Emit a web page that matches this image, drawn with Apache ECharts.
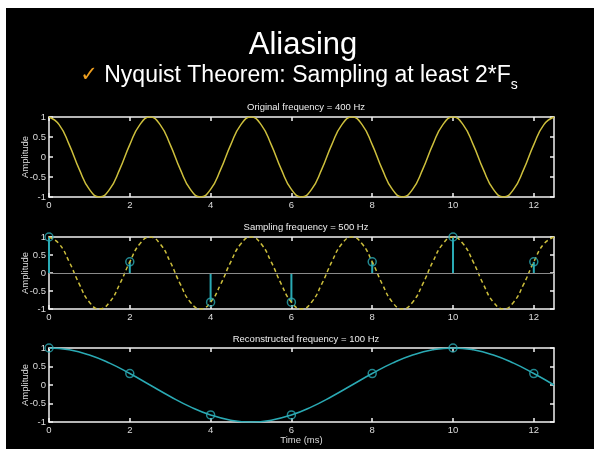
<!DOCTYPE html>
<html>
<head>
<meta charset="utf-8">
<script src="https://cdn.jsdelivr.net/npm/echarts@6/dist/echarts.min.js"></script>
<style>
  html, body { margin: 0; padding: 0; background: #fff; }
  #chart { width: 594px; height: 449px; }
</style>
</head>
<body>
<div id="chart"></div>
<script>
// 400 Hz tone, read every 0.25 ms
const origT = [0, 0.25, 0.5, 0.75, 1, 1.25, 1.5, 1.75, 2, 2.25, 2.5, 2.75, 3, 3.25, 3.5, 3.75, 4, 4.25, 4.5, 4.75,
  5, 5.25, 5.5, 5.75, 6, 6.25, 6.5, 6.75, 7, 7.25, 7.5, 7.75, 8, 8.25, 8.5, 8.75, 9, 9.25, 9.5, 9.75,
  10, 10.25, 10.5, 10.75, 11, 11.25, 11.5, 11.75, 12, 12.25, 12.5]
const origV = [1, 0.81, 0.31, -0.31, -0.81, -1, -0.81, -0.31, 0.31, 0.81,
  1, 0.81, 0.31, -0.31, -0.81, -1, -0.81, -0.31, 0.31, 0.81,
  1, 0.81, 0.31, -0.31, -0.81, -1, -0.81, -0.31, 0.31, 0.81,
  1, 0.81, 0.31, -0.31, -0.81, -1, -0.81, -0.31, 0.31, 0.81,
  1, 0.81, 0.31, -0.31, -0.81, -1, -0.81, -0.31, 0.31, 0.81, 1]

// samples taken every 2 ms
const sampleT = [0, 2, 4, 6, 8, 10, 12]
const sampleV = [1, 0.31, -0.81, -0.81, 0.31, 1, 0.31]

// 100 Hz alias, read every 0.5 ms
const reconT = [0, 0.5, 1, 1.5, 2, 2.5, 3, 3.5, 4, 4.5, 5, 5.5, 6, 6.5, 7, 7.5, 8, 8.5, 9, 9.5,
  10, 10.5, 11, 11.5, 12, 12.5]
const reconV = [1, 0.95, 0.81, 0.59, 0.31, 0, -0.31, -0.59, -0.81, -0.95, -1, -0.95, -0.81, -0.59, -0.31,
  0, 0.31, 0.59, 0.81, 0.95, 1, 0.95, 0.81, 0.59, 0.31, 0]

const xTicks = [0, 2, 4, 6, 8, 10, 12]
const plotTitles = ['Original frequency = 400 Hz', 'Sampling frequency = 500 Hz', 'Reconstructed frequency = 100 Hz']

const FONT = 'Liberation Sans'
const YELLOW = '#cdbf3c'
const CYAN = '#2aaab4'
const WHITE = '#f2f2f2'

const pairs = (xs, ys) => xs.map((x, i) => [x, ys[i]])

const grids = [
  { left: 49, width: 505, top: 117, height: 80 },
  { left: 49, width: 505, top: 237, height: 72 },
  { left: 49, width: 505, top: 348, height: 74 }
]

const xAxes = []
const yAxes = []
grids.forEach((g, i) => {
  const base = {
    gridIndex: i, type: 'value', min: 0, max: 12.5,
    axisLine: { show: true, onZero: false, lineStyle: { color: WHITE, width: 1.5 } },
    axisTick: { show: true, inside: true, length: 4, customValues: xTicks, lineStyle: { color: WHITE, width: 1.5 } },
    splitLine: { show: false }
  }
  xAxes.push(Object.assign({}, base, {
    position: 'bottom',
    axisLabel: { show: true, customValues: xTicks, color: '#ddd', fontSize: 9.5, fontFamily: FONT, margin: 3 },
    name: i === 2 ? 'Time (ms)' : '',
    nameLocation: 'middle', nameGap: 13, nameMoveOverlap: false,
    nameTextStyle: { color: '#ddd', fontSize: 9.5, fontFamily: FONT }
  }))
  xAxes.push(Object.assign({}, base, { position: 'top', axisLabel: { show: false } }))
  const ybase = {
    gridIndex: i, type: 'value', min: -1, max: 1, interval: 0.5,
    axisLine: { show: true, onZero: false, lineStyle: { color: WHITE, width: 1.5 } },
    axisTick: { show: true, inside: true, length: 4, lineStyle: { color: WHITE, width: 1.5 } },
    splitLine: { show: false }
  }
  yAxes.push(Object.assign({}, ybase, {
    position: 'left',
    axisLabel: { color: '#ddd', fontSize: 9.5, fontFamily: FONT, margin: 3 },
    name: 'Amplitude', nameLocation: 'middle', nameGap: 19, nameRotate: 90, nameMoveOverlap: false,
    nameTextStyle: { color: '#ddd', fontSize: 9.5, fontFamily: FONT }
  }))
  yAxes.push(Object.assign({}, ybase, { position: 'right', axisLabel: { show: false } }))
})

const option = {
  backgroundColor: '#fff',
  animation: false,
  graphic: [
    { type: 'rect', z: -10, silent: true, shape: { x: 6, y: 8, width: 588, height: 441 }, style: { fill: '#000' } }
  ],
  title: [
    { text: 'Aliasing', left: 298, top: 25, textAlign: 'center',
      textStyle: { color: '#fff', fontSize: 31, fontWeight: 'normal', fontFamily: FONT } },
    { text: '{chk|✓} Nyquist Theorem: Sampling at least 2*F{sub|s}', left: 294, top: 59, textAlign: 'center',
      textStyle: { color: '#fff', fontSize: 23, fontWeight: 'normal', fontFamily: FONT,
        rich: {
          chk: { color: '#f0a020', fontSize: 21, fontFamily: 'DejaVu Sans' },
          sub: { color: '#fff', fontSize: 14, fontFamily: FONT, verticalAlign: 'bottom', padding: [0, 0, -5, 0] }
        } } }
  ].concat(plotTitles.map((t, i) => ({
    text: t, left: 301, top: [97, 217, 329][i], textAlign: 'center',
    textStyle: { color: '#eee', fontSize: 9.5, fontWeight: 'normal', fontFamily: FONT }
  }))),
  grid: grids,
  xAxis: xAxes,
  yAxis: yAxes,
  series: [
    {
      type: 'line', xAxisIndex: 0, yAxisIndex: 0, data: pairs(origT, origV),
      smooth: true, showSymbol: false, lineStyle: { color: YELLOW, width: 1.5 }
    },
    {
      type: 'line', xAxisIndex: 2, yAxisIndex: 2, data: pairs(origT, origV),
      smooth: true, showSymbol: false, lineStyle: { color: YELLOW, width: 1.5, type: [4, 3] },
      markLine: {
        silent: true, symbol: 'none', label: { show: false },
        lineStyle: { color: '#8a8a8a', width: 1, type: 'solid' },
        data: [{ yAxis: 0 }]
      }
    },
    {
      type: 'bar', xAxisIndex: 2, yAxisIndex: 2, data: pairs(sampleT, sampleV),
      barWidth: 2, itemStyle: { color: CYAN }
    },
    {
      type: 'scatter', xAxisIndex: 2, yAxisIndex: 2, data: pairs(sampleT, sampleV),
      symbol: 'circle', symbolSize: 8, z: 5,
      itemStyle: { color: 'rgba(0,0,0,0)', borderColor: CYAN, borderWidth: 1.5 }
    },
    {
      type: 'line', xAxisIndex: 4, yAxisIndex: 4, data: pairs(reconT, reconV),
      smooth: true, showSymbol: false, lineStyle: { color: CYAN, width: 1.5 }
    },
    {
      type: 'scatter', xAxisIndex: 4, yAxisIndex: 4, data: pairs(sampleT, sampleV),
      symbol: 'circle', symbolSize: 8, z: 5,
      itemStyle: { color: 'rgba(0,0,0,0)', borderColor: CYAN, borderWidth: 1.5 }
    }
  ]
}

const chart = echarts.init(document.getElementById('chart'))
chart.setOption(option)
</script>
</body>
</html>
